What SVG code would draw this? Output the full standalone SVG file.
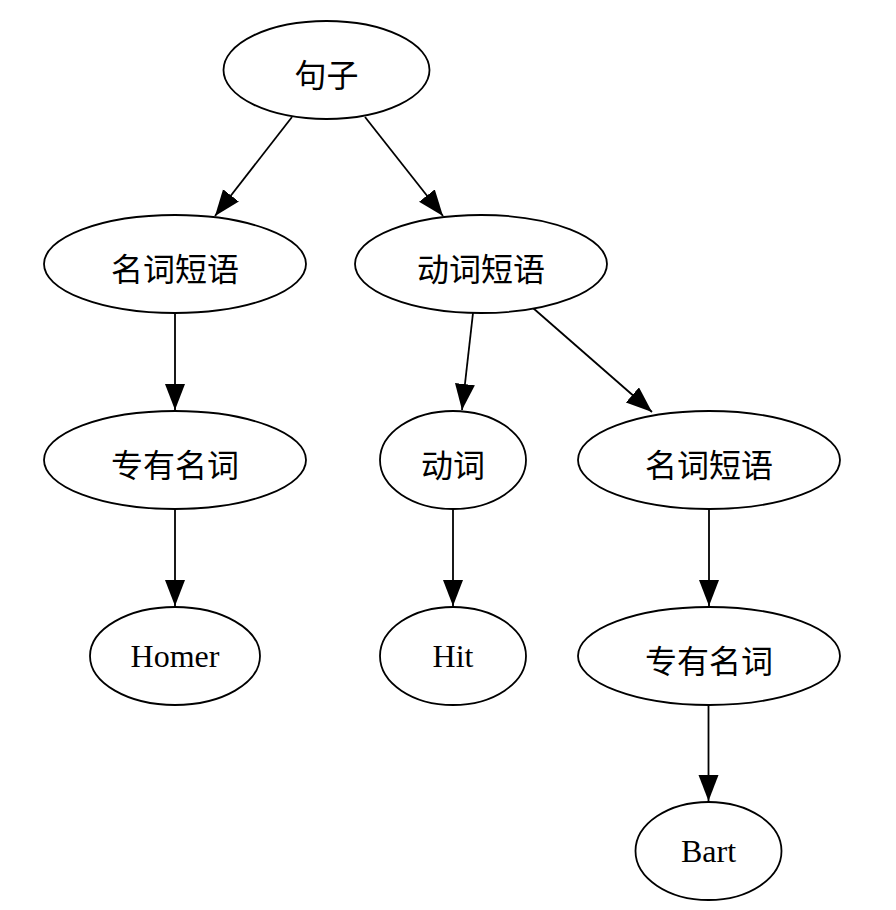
<svg xmlns="http://www.w3.org/2000/svg" width="896" height="910" viewBox="0 0 896 910">
<defs>
<marker id="ah" markerUnits="userSpaceOnUse" markerWidth="28" markerHeight="22" refX="26" refY="10" orient="auto">
<path d="M0,0 L26,10 L0,20 z" fill="#000"/>
</marker>
<style>
.n ellipse{fill:#fff;stroke:#000;stroke-width:1.8}
.n text{font-size:32px;text-anchor:middle;fill:#000}
.cjk{font-family:"Noto Sans CJK SC","Noto Sans CJK JP",sans-serif}
.lat{font-family:"Liberation Serif","Times New Roman",serif}
#edges line{stroke:#000;stroke-width:1.8;marker-end:url(#ah)}
</style>
</defs>
<rect width="896" height="910" fill="#fff"/>
<g id="edges">
<line x1="292" y1="117" x2="215" y2="216"/>
<line x1="365" y1="117" x2="443" y2="216"/>
<line x1="175" y1="313" x2="175" y2="410"/>
<line x1="473" y1="313" x2="462" y2="410"/>
<line x1="533" y1="308" x2="652" y2="412"/>
<line x1="175" y1="509" x2="175" y2="606"/>
<line x1="453" y1="509" x2="453" y2="606"/>
<line x1="709" y1="509" x2="709" y2="606"/>
<line x1="708.5" y1="705" x2="708.5" y2="801"/>
</g>
<g id="n1" class="n"><ellipse cx="326.5" cy="70" rx="103" ry="49"/><text class="cjk" x="326.5" y="87">句子</text></g>
<g id="n2" class="n"><ellipse cx="175" cy="264" rx="131" ry="49"/><text class="cjk" x="175" y="281">名词短语</text></g>
<g id="n3" class="n"><ellipse cx="481" cy="264" rx="126" ry="49"/><text class="cjk" x="481" y="281">动词短语</text></g>
<g id="n4" class="n"><ellipse cx="175" cy="460" rx="131" ry="49"/><text class="cjk" x="175" y="477">专有名词</text></g>
<g id="n5" class="n"><ellipse cx="453" cy="460" rx="73" ry="49"/><text class="cjk" x="453" y="477">动词</text></g>
<g id="n6" class="n"><ellipse cx="709" cy="460" rx="131" ry="49"/><text class="cjk" x="709" y="477">名词短语</text></g>
<g id="n7" class="n"><ellipse cx="175" cy="656" rx="85" ry="49"/><text class="lat" x="175" y="667">Homer</text></g>
<g id="n8" class="n"><ellipse cx="453" cy="656" rx="73" ry="49"/><text class="lat" x="453" y="667">Hit</text></g>
<g id="n9" class="n"><ellipse cx="709" cy="656" rx="131" ry="49"/><text class="cjk" x="709" y="673">专有名词</text></g>
<g id="n10" class="n"><ellipse cx="708.5" cy="851" rx="73" ry="49"/><text class="lat" x="708.5" y="862">Bart</text></g>
</svg>
